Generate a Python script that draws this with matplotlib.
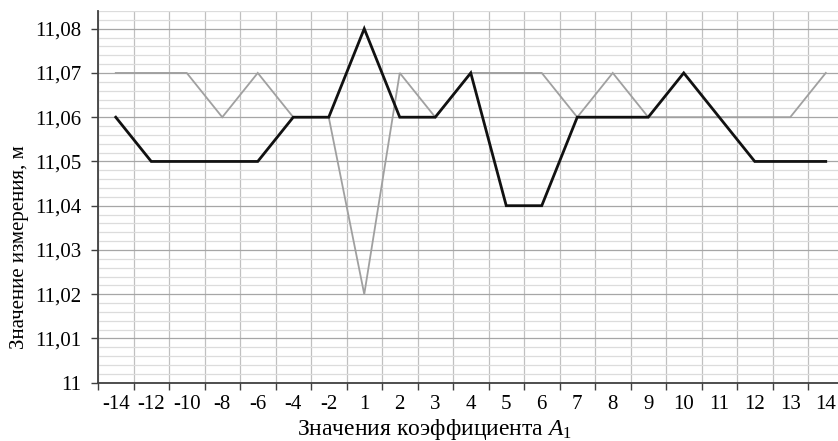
import matplotlib
matplotlib.use("Agg")
import matplotlib.pyplot as plt
from matplotlib.ticker import FixedLocator, MultipleLocator, FuncFormatter

categories = ["-14", "-12", "-10", "-8", "-6", "-4", "-2", "1", "2", "3", "4",
              "5", "6", "7", "8", "9", "10", "11", "12", "13", "14"]
series_black = [11.06, 11.05, 11.05, 11.05, 11.05, 11.06, 11.06, 11.08, 11.06, 11.06, 11.07,
                11.04, 11.04, 11.06, 11.06, 11.06, 11.07, 11.06, 11.05, 11.05, 11.05]
series_gray = [11.07, 11.07, 11.07, 11.06, 11.07, 11.06, 11.06, 11.02, 11.07, 11.06, 11.07,
               11.07, 11.07, 11.06, 11.07, 11.06, 11.06, 11.06, 11.06, 11.06, 11.07]
y_label = "Значение измерения, м"
x_label = r"Значения коэффициента $\mathit{A}_{\mathrm{1}}$"

plt.rcParams['font.family'] = ['Liberation Serif', 'DejaVu Serif']
plt.rcParams['mathtext.fontset'] = 'custom'
plt.rcParams['mathtext.rm'] = 'Liberation Serif'
plt.rcParams['mathtext.it'] = 'Liberation Serif:italic'

FS = 15
fig = plt.figure(figsize=(8.38, 4.41), dpi=100)
W, H = 838, 441
left, right, bottom, top = 98, 843.5, 441 - 382.7, 441 - 11
ax = fig.add_axes([left / W, bottom / H, (right - left) / W, (top - bottom) / H])

x = list(range(len(categories)))
ax.plot(x, series_gray, color='#a0a0a0', lw=1.3, zorder=3, solid_joinstyle='miter')
ax.plot(x, series_black, color='#111111', lw=2.0, zorder=4, solid_joinstyle='miter')

ax.set_xlim(-0.5, len(categories) - 0.5)
ax.set_ylim(11.0, 11.084)

# x axis: ticks at category boundaries, labels at centers
ax.xaxis.set_major_locator(FixedLocator([i - 0.5 for i in range(len(categories) + 1)]))
ax.xaxis.set_major_formatter(FuncFormatter(lambda v, p: ""))
ax.xaxis.set_minor_locator(FixedLocator(x))
ax.set_xticklabels(categories, minor=True)
ax.tick_params(axis='x', which='major', length=5, width=1.0, color='#404040', direction='out')
ax.tick_params(axis='x', which='minor', length=0, pad=9, labelsize=FS)

# y axis
ax.yaxis.set_major_locator(MultipleLocator(0.01))
ax.yaxis.set_minor_locator(MultipleLocator(0.002))
def yfmt(v, p):
    s = f"{v:.2f}".replace(".", ",")
    if s.endswith(",00"):
        s = s[:-3]
    return s
ax.yaxis.set_major_formatter(FuncFormatter(yfmt))
ax.tick_params(axis='y', which='major', length=5, width=1.0, color='#404040', direction='out',
               labelsize=FS, pad=7)
ax.tick_params(axis='y', which='minor', length=0)

ax.grid(True, axis='y', which='major', color='#a6a6a6', lw=0.9)
ax.grid(True, axis='y', which='minor', color='#dcdcdc', lw=0.9)
ax.grid(True, axis='x', which='major', color='#c0c0c0', lw=0.9)
ax.set_axisbelow(True)

for s in ['top', 'right']:
    ax.spines[s].set_visible(False)
for s in ['left', 'bottom']:
    ax.spines[s].set_color('#404040')
    ax.spines[s].set_linewidth(1.3)

ax.set_ylabel(y_label, fontsize=FS)
ax.yaxis.set_label_coords(-0.093, 0.366)
fig.text(434 / W, 6.5 / H, x_label, fontsize=17, ha='center', va='baseline')

fig.savefig("out.png", dpi=100)
